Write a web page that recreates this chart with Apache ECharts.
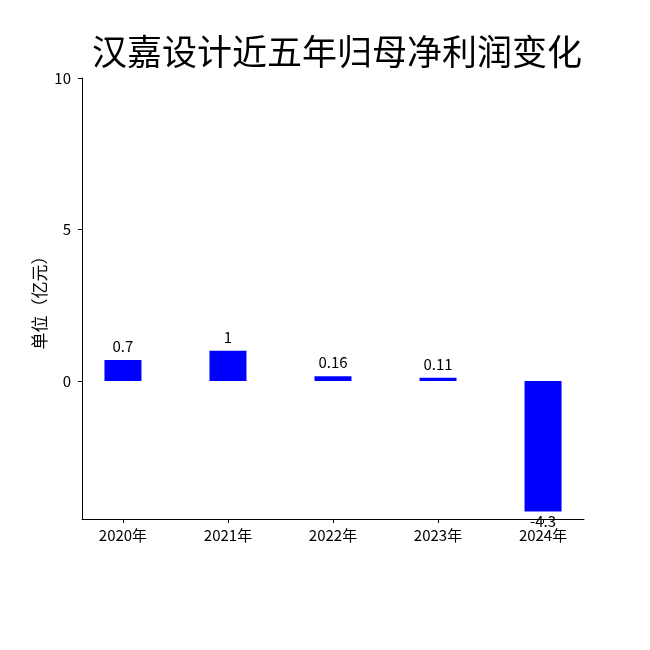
<!DOCTYPE html>
<html lang="zh">
<head>
  <meta charset="UTF-8">
  <title>汉嘉设计近五年归母净利润变化</title>
  <style>
    * { box-sizing: border-box; padding: 0; margin: 0; }
    html, body, #main { width: 100%; height: 100%; background: #fff; }
  </style>
  <script src="https://cdn.jsdelivr.net/npm/echarts@6/dist/echarts.min.js"></script>
</head>
<body>
  <div id="main"></div>
  <script>
    // 数据
    var years = ['2020年', '2021年', '2022年', '2023年', '2024年'];
    var profits = [0.7, 1, 0.16, 0.11, -4.3];
    var yTicks = [0, 5, 10];

    var font = 'Noto Sans CJK SC';
    var myChart = echarts.init(document.getElementById('main'));

    var option = {
      backgroundColor: '#fff',
      textStyle: { fontFamily: font },
      title: {
        text: '汉嘉设计近五年归母净利润变化',
        left: 87,
        top: 29,
        textStyle: { fontSize: 35, fontWeight: 'normal', color: '#000', fontFamily: font }
      },
      grid: { left: 82, right: 66, top: 78, bottom: 131 },
      xAxis: {
        type: 'value',
        min: -0.39,
        max: 4.39,
        axisLine: { onZero: false, lineStyle: { color: '#000', width: 1 } },
        axisTick: { show: true, length: 4, customValues: [0, 1, 2, 3, 4], lineStyle: { color: '#000' } },
        axisLabel: {
          customValues: [0, 1, 2, 3, 4],
          formatter: function (v) { return years[Math.round(v)]; },
          color: '#000', fontSize: 15, margin: 9, fontFamily: font
        },
        splitLine: { show: false }
      },
      yAxis: {
        type: 'value',
        min: -4.55,
        max: 10,
        name: '单位（亿元）',
        nameLocation: 'middle',
        nameRotate: 90,
        nameGap: 34,
        nameMoveOverlap: false,
        nameTextStyle: { color: '#000', fontSize: 17, fontFamily: font },
        axisLine: { show: true, onZero: false, lineStyle: { color: '#000', width: 1 } },
        axisTick: { show: true, length: 4, customValues: yTicks, lineStyle: { color: '#000' } },
        axisLabel: { customValues: yTicks, color: '#000', fontSize: 15, margin: 11, fontFamily: font },
        splitLine: { show: false }
      },
      series: [{
        type: 'bar',
        barWidth: 37,
        itemStyle: { color: '#0000ff' },
        label: { show: true, position: 'top', distance: 6, color: '#000', fontSize: 15, fontFamily: font },
        data: profits.map(function (v, i) {
          return { value: [i, v], label: { position: v < 0 ? 'bottom' : 'top', distance: v < 0 ? 2 : 6,
            formatter: String(v) } };
        })
      }]
    };

    myChart.setOption(option);
    window.onresize = myChart.resize;
  </script>
</body>
</html>
